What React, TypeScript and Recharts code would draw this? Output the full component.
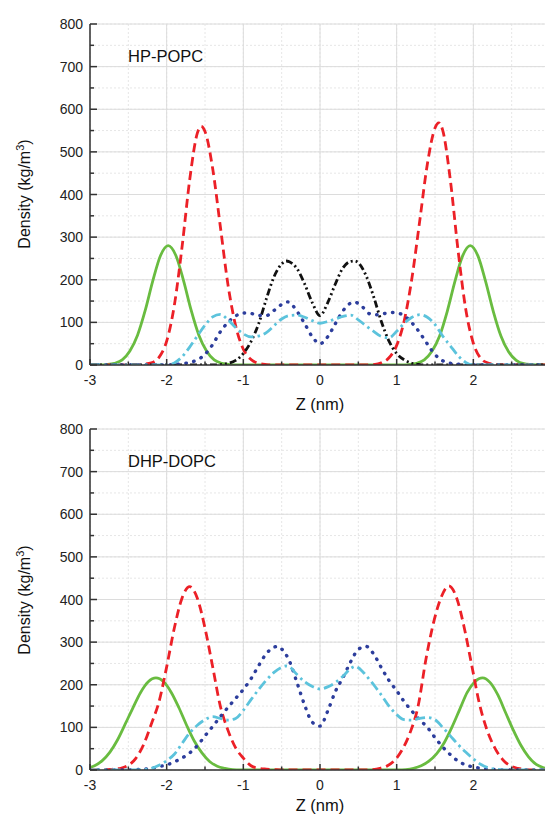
import React from 'react';
import { LineChart, Line, XAxis, YAxis, CartesianGrid } from 'recharts';

// ---------- axis ticks ----------
const zTicks = [-3, -2.5, -2, -1.5, -1, -0.5, 0, 0.5, 1, 1.5, 2, 2.5, 3];
const zMajor = [-3, -2, -1, 0, 1, 2, 3];
const yTicks = [0, 50, 100, 150, 200, 250, 300, 350, 400, 450, 500, 550, 600, 650, 700, 750, 800];
const yMajor = [0, 100, 200, 300, 400, 500, 600, 700, 800];

// ---------- HP-POPC ----------
const hpGreenZ = [-3, -2.88, -2.78, -2.68, -2.58, -2.48, -2.38, -2.28, -2.18, -2.08, -1.98, -1.88, -1.78, -1.68, -1.58, -1.48, -1.38, -1.28, -1.18, -1.08, 0, 1.06, 1.16, 1.26, 1.36, 1.46, 1.56, 1.66, 1.76, 1.86, 1.96, 2.06, 2.16, 2.26, 2.36, 2.46, 2.56, 2.66, 2.76, 2.86, 3];
const hpGreenV = [0, 0, 1, 4, 12, 33, 70, 128, 198, 257, 280, 257, 198, 128, 70, 33, 12, 4, 1, 0, 0, 0, 1, 4, 12, 32, 68, 126, 196, 256, 280, 256, 196, 126, 68, 31, 11, 3, 1, 0, 0];

const hpRedZ = [-3, -2.5, -2.4, -2.3, -2.2, -2.1, -2.0, -1.9, -1.8, -1.7, -1.6, -1.55, -1.5, -1.4, -1.3, -1.2, -1.1, -1.0, -0.9, -0.8, -0.7, -0.6, 0.6, 0.7, 0.8, 0.9, 1.0, 1.1, 1.2, 1.3, 1.4, 1.5, 1.55, 1.6, 1.7, 1.8, 1.9, 2.0, 2.1, 2.2, 2.3, 2.4, 3];
const hpRedV = [0, 0, 1, 2, 5, 18, 56, 140, 276, 434, 544, 560, 548, 461, 325, 188, 92, 37, 13, 4, 1, 0, 0, 1, 5, 17, 46, 105, 205, 337, 471, 556, 568, 551, 434, 270, 132, 51, 15, 4, 1, 0, 0];

const hpBlackZ = [-3, -1.4, -1.3, -1.2, -1.1, -1.0, -0.9, -0.8, -0.7, -0.6, -0.5, -0.44, -0.4, -0.3, -0.2, -0.1, 0, 0.1, 0.2, 0.3, 0.4, 0.45, 0.5, 0.6, 0.7, 0.8, 0.9, 1.0, 1.1, 1.2, 1.3, 1.4, 3];
const hpBlackV = [0, 0, 1, 4, 11, 27, 55, 97, 155, 207, 237, 244, 242, 226, 190, 146, 116, 146, 190, 228, 243, 244, 240, 210, 160, 102, 56, 27, 12, 4, 1, 0, 0];

const hpBlueZ = [-3, -2.0, -1.9, -1.8, -1.7, -1.6, -1.5, -1.4, -1.3, -1.2, -1.1, -1.0, -0.9, -0.8, -0.7, -0.6, -0.5, -0.42, -0.3, -0.2, -0.1, 0, 0.1, 0.2, 0.3, 0.4, 0.46, 0.55, 0.65, 0.75, 0.85, 0.95, 1.05, 1.15, 1.25, 1.35, 1.45, 1.55, 1.65, 1.75, 1.85, 1.95, 3];
const hpBlueV = [0, 0, 1, 3, 6, 12, 25, 48, 78, 100, 115, 122, 121, 116, 116, 128, 142, 148, 126, 97, 66, 50, 66, 97, 127, 145, 147, 137, 120, 118, 121, 123, 120, 108, 88, 63, 36, 16, 6, 3, 1, 0, 0];

const hpCyanZ = [-3, -2.0, -1.9, -1.8, -1.7, -1.6, -1.5, -1.4, -1.3, -1.2, -1.1, -1.0, -0.9, -0.8, -0.7, -0.6, -0.5, -0.4, -0.3, -0.2, -0.1, 0, 0.1, 0.2, 0.3, 0.4, 0.5, 0.6, 0.7, 0.8, 0.9, 1.0, 1.1, 1.2, 1.3, 1.4, 1.5, 1.6, 1.7, 1.8, 1.9, 2.0, 3];
const hpCyanV = [0, 0, 5, 19, 42, 68, 93, 113, 119, 106, 88, 73, 66, 68, 76, 92, 108, 116, 117, 112, 104, 98, 102, 108, 114, 117, 106, 92, 79, 67, 64, 79, 98, 112, 118, 112, 95, 68, 45, 22, 6, 0, 0];

// ---------- DHP-DOPC ----------
const dhGreenZ = [-3, -2.94, -2.84, -2.74, -2.64, -2.54, -2.44, -2.34, -2.24, -2.14, -2.04, -1.94, -1.84, -1.74, -1.64, -1.54, -1.44, -1.34, -1.24, -1.14, -1.04, 0, 1.02, 1.12, 1.22, 1.32, 1.42, 1.52, 1.62, 1.72, 1.82, 1.92, 2.02, 2.12, 2.22, 2.32, 2.42, 2.52, 2.62, 2.72, 2.82, 2.92, 3];
const dhGreenV = [6, 10, 22, 42, 71, 108, 146, 182, 207, 216, 207, 182, 146, 105, 68, 40, 20, 9, 4, 1, 0, 0, 0, 1, 4, 10, 21, 38, 64, 100, 141, 182, 207, 216, 205, 176, 135, 94, 58, 31, 13, 5, 2];

const dhRedZ = [-3, -2.8, -2.7, -2.6, -2.5, -2.4, -2.3, -2.2, -2.1, -2.0, -1.9, -1.8, -1.7, -1.6, -1.5, -1.4, -1.3, -1.2, -1.1, -1.0, -0.9, -0.8, -0.7, -0.6, -0.5, 0.58, 0.68, 0.78, 0.88, 0.98, 1.08, 1.18, 1.28, 1.38, 1.48, 1.58, 1.68, 1.78, 1.88, 1.98, 2.08, 2.18, 2.28, 2.38, 2.48, 2.58, 2.68, 2.78, 3];
const dhRedV = [0, 0, 2, 4, 11, 28, 60, 108, 160, 242, 333, 403, 430, 403, 333, 242, 150, 93, 52, 28, 10, 4, 2, 1, 0, 0, 1, 4, 10, 24, 50, 90, 150, 258, 345, 405, 432, 405, 335, 245, 155, 93, 52, 25, 10, 4, 1, 0, 0];

const dhBlueZ = [-3, -2.5, -2.4, -2.3, -2.2, -2.1, -2.0, -1.9, -1.8, -1.7, -1.6, -1.5, -1.4, -1.3, -1.2, -1.1, -1.0, -0.9, -0.8, -0.7, -0.6, -0.55, -0.5, -0.4, -0.3, -0.2, -0.1, 0, 0.1, 0.2, 0.3, 0.4, 0.5, 0.6, 0.7, 0.8, 0.9, 1.0, 1.1, 1.2, 1.3, 1.4, 1.5, 1.6, 1.7, 1.8, 1.9, 2.0, 2.1, 2.2, 2.3, 2.4, 3];
const dhBlueV = [0, 0, 1, 2, 4, 8, 12, 19, 28, 40, 57, 80, 102, 125, 147, 168, 189, 214, 245, 273, 288, 290, 284, 256, 205, 152, 112, 103, 138, 184, 217, 254, 283, 290, 272, 240, 210, 186, 160, 138, 118, 100, 76, 54, 36, 21, 12, 7, 4, 2, 1, 0, 0];

const dhCyanZ = [-3, -2.4, -2.3, -2.2, -2.1, -2.0, -1.9, -1.8, -1.7, -1.6, -1.5, -1.4, -1.3, -1.2, -1.1, -1.0, -0.9, -0.8, -0.7, -0.6, -0.5, -0.44, -0.4, -0.3, -0.2, -0.1, 0, 0.1, 0.2, 0.3, 0.4, 0.46, 0.5, 0.6, 0.7, 0.8, 0.9, 1.0, 1.1, 1.2, 1.3, 1.4, 1.5, 1.6, 1.7, 1.8, 1.9, 2.0, 2.1, 2.2, 2.3, 2.4, 3];
const dhCyanV = [0, 0, 1, 4, 11, 22, 37, 62, 87, 105, 118, 125, 121, 117, 121, 140, 165, 189, 211, 229, 241, 244, 242, 224, 207, 196, 190, 195, 205, 220, 238, 243, 240, 222, 200, 176, 150, 130, 118, 117, 121, 123, 118, 100, 80, 60, 42, 26, 13, 5, 2, 0, 0];

// ---------- styling ----------
const FONT = "Arial, 'Liberation Sans', Helvetica, sans-serif";
const AX = '#333333';
const GREEN = '#69BC40';
const RED = '#EC2027';
const BLACK = '#111111';
const BLUE = '#2C3D9C';
const CYAN = '#5CC3DC';

const pts = (zs: number[], vs: number[]) => zs.map((z, i) => ({ z, v: vs[i] }));

function YTick(props: any) {
  const { x, y, payload } = props;
  const v = payload.value;
  const major = v % 100 === 0;
  return (
    <g>
      <line x1={x} x2={x + (major ? 7 : 4)} y1={y} y2={y} stroke={AX} strokeWidth={1.5} />
      {major && (
        <text x={x - 7} y={y + 5} textAnchor="end" fontSize={14} fill="#222" fontFamily={FONT}>
          {v}
        </text>
      )}
    </g>
  );
}

function XTick(props: any) {
  const { x, y, payload } = props;
  const v = payload.value;
  const major = Math.abs(v - Math.round(v)) < 1e-6;
  const showLabel = major && x < 540;
  return (
    <g>
      <line x1={x} x2={x} y1={y} y2={y - (major ? 6 : 3.5)} stroke={AX} strokeWidth={1.5} />
      {showLabel && (
        <text x={x} y={y + 20} textAnchor="middle" fontSize={14} fill="#222" fontFamily={FONT}>
          {v}
        </text>
      )}
    </g>
  );
}

type Series = { key: string; data: { z: number; v: number }[]; color: string; width: number; dash?: string; round?: boolean };

function Panel({ height, top, xAxisHeight, series }: { height: number; top: number; xAxisHeight: number; series: Series[] }) {
  return (
    <LineChart width={550} height={height} margin={{ top, right: 0, bottom: 0, left: 0 }}>
      <XAxis xAxisId="maj" type="number" dataKey="z" domain={[-3, 3]} ticks={zMajor} hide allowDataOverflow />
      <YAxis yAxisId="maj" type="number" domain={[0, 800]} ticks={yMajor} hide allowDataOverflow />
      <CartesianGrid stroke="#e6e6e6" strokeDasharray="2 2" strokeWidth={1} />
      <CartesianGrid xAxisId="maj" yAxisId="maj" stroke="#dcdcdc" strokeWidth={1} />
      <XAxis
        type="number"
        dataKey="z"
        domain={[-3, 3]}
        ticks={zTicks}
        allowDataOverflow
        height={xAxisHeight}
        tickSize={0}
        tickMargin={0}
        tickLine={false}
        axisLine={{ stroke: AX, strokeWidth: 1.5 }}
        tick={<XTick />}
        interval={0}
      />
      <YAxis
        type="number"
        domain={[0, 800]}
        ticks={yTicks}
        allowDataOverflow
        width={90}
        tickSize={0}
        tickMargin={0}
        tickLine={false}
        axisLine={{ stroke: AX, strokeWidth: 1.5 }}
        tick={<YTick />}
        interval={0}
      />
      {series.map((s) => (
        <Line
          key={s.key}
          data={s.data}
          dataKey="v"
          type="monotone"
          stroke={s.color}
          strokeWidth={s.width}
          strokeDasharray={s.dash}
          strokeLinecap={s.round ? 'round' : 'butt'}
          dot={false}
          activeDot={false}
          isAnimationActive={false}
        />
      ))}
    </LineChart>
  );
}

function Titles({ height, label, labelY, yTitleY, xTitleY }: { height: number; label: string; labelY: number; yTitleY: number; xTitleY: number }) {
  return (
    <svg width={545} height={height} style={{ position: 'absolute', left: 0, top: 0, pointerEvents: 'none', overflow: 'visible' }}>
      <text x={128} y={labelY} fontSize={16.5} fill="#111" fontFamily={FONT}>
        {label}
      </text>
      <text transform={`translate(30,${yTitleY}) rotate(-90)`} textAnchor="middle" fontSize={16} fill="#111" fontFamily={FONT}>
        Density (kg/m
        <tspan fontSize={11} dy={-6}>3</tspan>
        <tspan dy={6}>)</tspan>
      </text>
      <text x={320} y={xTitleY} textAnchor="middle" fontSize={16.5} fill="#111" fontFamily={FONT}>
        Z (nm)
      </text>
    </svg>
  );
}

const hpSeries: Series[] = [
  { key: 'green', data: pts(hpGreenZ, hpGreenV), color: GREEN, width: 2.8 },
  { key: 'red', data: pts(hpRedZ, hpRedV), color: RED, width: 2.8, dash: '9 5' },
  { key: 'black', data: pts(hpBlackZ, hpBlackV), color: BLACK, width: 2.8, dash: '7 3 2 3 2 3' },
  { key: 'blue', data: pts(hpBlueZ, hpBlueV), color: BLUE, width: 3.4, dash: '0.5 7.5', round: true },
  { key: 'cyan', data: pts(hpCyanZ, hpCyanV), color: CYAN, width: 2.8, dash: '10 4 2.5 4' },
];

const dhSeries: Series[] = [
  { key: 'green', data: pts(dhGreenZ, dhGreenV), color: GREEN, width: 2.8 },
  { key: 'red', data: pts(dhRedZ, dhRedV), color: RED, width: 2.8, dash: '9 5' },
  { key: 'blue', data: pts(dhBlueZ, dhBlueV), color: BLUE, width: 3.4, dash: '0.5 7.5', round: true },
  { key: 'cyan', data: pts(dhCyanZ, dhCyanV), color: CYAN, width: 2.8, dash: '10 4 2.5 4' },
];

export default function App() {
  return (
    <div style={{ position: 'absolute', left: 0, top: 0, width: 545, height: 819, overflow: 'hidden', background: '#fff' }}>
      <div style={{ position: 'absolute', left: 0, top: 410, width: 550, height: 409 }}>
        <Panel height={409} top={19} xAxisHeight={49} series={dhSeries} />
        <Titles height={409} label="DHP-DOPC" labelY={57} yTitleY={190} xTitleY={401} />
      </div>
      <div style={{ position: 'absolute', left: 0, top: 0, width: 550, height: 410 }}>
        <Panel height={410} top={24} xAxisHeight={45} series={hpSeries} />
        <Titles height={410} label="HP-POPC" labelY={62} yTitleY={194} xTitleY={410} />
      </div>
    </div>
  );
}
